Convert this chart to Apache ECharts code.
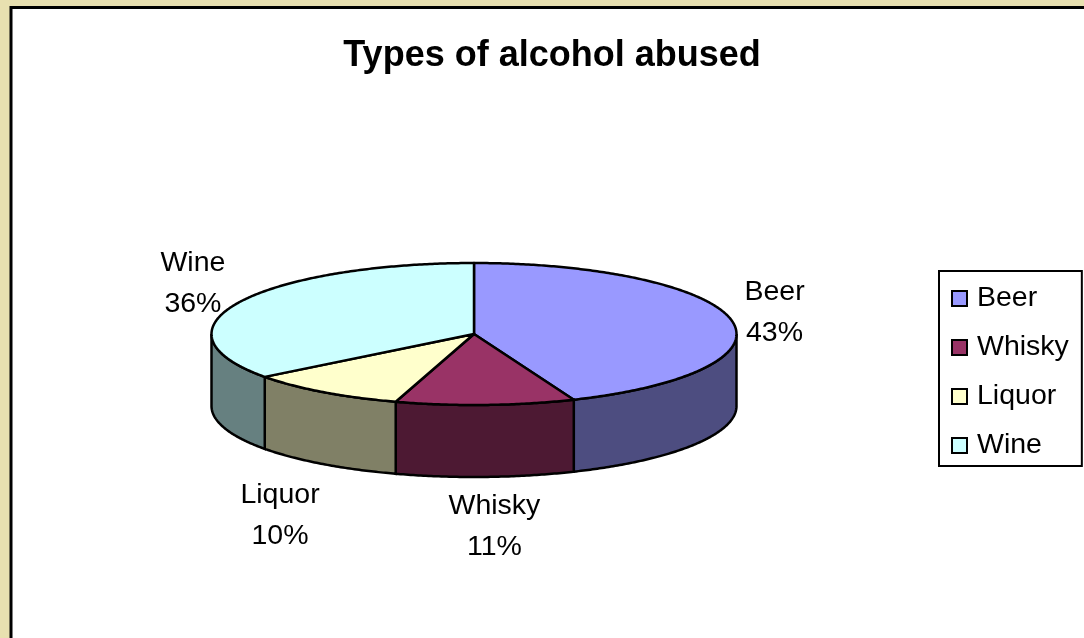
<!DOCTYPE html>
<html>
<head>
<meta charset="utf-8">
<title>Types of alcohol abused</title>
<style>html,body{margin:0;padding:0;background:#E8E0B0}#c{width:1084px;height:638px}</style>
<script src="https://cdn.jsdelivr.net/npm/echarts@6/dist/echarts.min.js"></script>
</head>
<body>
<div id="c"></div>
<script>
// Chart content
const chartTitle = 'Types of alcohol abused';
const categories = ['Beer', 'Whisky', 'Liquor', 'Wine'];
const shares = [43, 11, 10, 36];
const topColors = ['#9999FF', '#993366', '#FFFFCC', '#CCFFFF'];
const sideColors = ['#4D4D80', '#4D1933', '#808066', '#668080'];

// Disc geometry: ellipse centre, radii and rim height
const CX = 474, CY = 334, RX = 262.5, RY = 71, DEPTH = 72;
// The tilted view pulls the far side of the disc round by this many radians at most
const VIEW_SKEW = 3 * Math.PI / 180;
const FONT = '"Liberation Sans", Arial, sans-serif';
const LABEL_SIZE = 28.5;
// Offset of each label from the rim at the middle of its slice
const labelOffset = [[43, -8], [9, 50], [-43, 52], [-46, -18.5]];

const total = shares.reduce((a, b) => a + b, 0);
const toAngle = v => {
  const a = v / total * Math.PI * 2;
  return a + VIEW_SKEW * Math.pow(Math.sin(a / 2), 2);
};
const rimPoint = (a, dy) => [CX + RX * Math.sin(a), CY - RY * Math.cos(a) + dy];

function arcPoints(a0, a1, dy) {
  const n = Math.max(2, Math.ceil((a1 - a0) / 0.01));
  const pts = [];
  for (let i = 0; i <= n; i++) pts.push(rimPoint(a0 + (a1 - a0) * i / n, dy));
  return pts;
}

// Draws one slice: visible rim wall, top face, and its two-line label
function renderSlice(index) {
  return function (params, api) {
    const before = shares.slice(0, index).reduce((a, b) => a + b, 0);
    const a0 = toAngle(before);
    const a1 = toAngle(before + api.value(0));
    const children = [];
    const lo = Math.max(a0, Math.PI / 2);
    const hi = Math.min(a1, Math.PI * 1.5);
    if (hi > lo) {
      const upper = arcPoints(lo, hi, 0);
      const lower = arcPoints(lo, hi, DEPTH).reverse();
      children.push({
        type: 'polygon',
        shape: { points: upper.concat(lower) },
        style: { fill: sideColors[index], stroke: '#000', lineWidth: 2.5 }
      });
    }
    children.push({
      type: 'polygon',
      shape: { points: [[CX, CY]].concat(arcPoints(a0, a1, 0)) },
      style: { fill: topColors[index], stroke: '#000', lineWidth: 2.5, lineJoin: 'round' }
    });
    const mid = (a0 + a1) / 2;
    const anchor = rimPoint(mid, Math.cos(mid) < 0 ? DEPTH : 0);
    children.push({
      type: 'text',
      x: anchor[0] + labelOffset[index][0],
      y: anchor[1] + labelOffset[index][1],
      z2: 10,
      style: {
        text: categories[index] + '\n' + Math.round(api.value(0)) + '%',
        font: LABEL_SIZE + 'px ' + FONT,
        fill: '#000',
        align: 'center',
        verticalAlign: 'middle',
        lineHeight: 41
      }
    });
    return { type: 'group', children };
  };
}

const chart = echarts.init(document.getElementById('c'), null, { renderer: 'canvas' });
chart.setOption({
  animation: false,
  backgroundColor: '#E8E0B0',
  graphic: [{
    type: 'rect',
    z: -10,
    shape: { x: 11, y: 7.5, width: 1100, height: 660 },
    style: { fill: '#fff', stroke: '#000', lineWidth: 3 }
  }],
  title: {
    text: chartTitle,
    left: 547,
    top: 33,
    textAlign: 'center',
    textStyle: { fontFamily: FONT, fontWeight: 'bold', fontSize: 36, color: '#000' }
  },
  legend: {
    orient: 'vertical',
    left: 939,
    top: 271,
    padding: [13, 13, 6, 12],
    itemGap: 20,
    itemWidth: 15,
    itemHeight: 15,
    icon: 'rect',
    backgroundColor: '#fff',
    borderColor: '#000',
    borderWidth: 2,
    borderRadius: 0,
    itemStyle: { borderColor: '#000', borderWidth: 2 },
    textStyle: { fontFamily: FONT, fontSize: LABEL_SIZE, color: '#000', padding: [0, 0, 0, 5] },
    data: categories
  },
  series: categories.map((name, i) => ({
    type: 'custom',
    name,
    coordinateSystem: 'none',
    itemStyle: { color: topColors[i] },
    renderItem: renderSlice(i),
    data: [[shares[i]]],
    silent: true
  }))
});
</script>
</body>
</html>
